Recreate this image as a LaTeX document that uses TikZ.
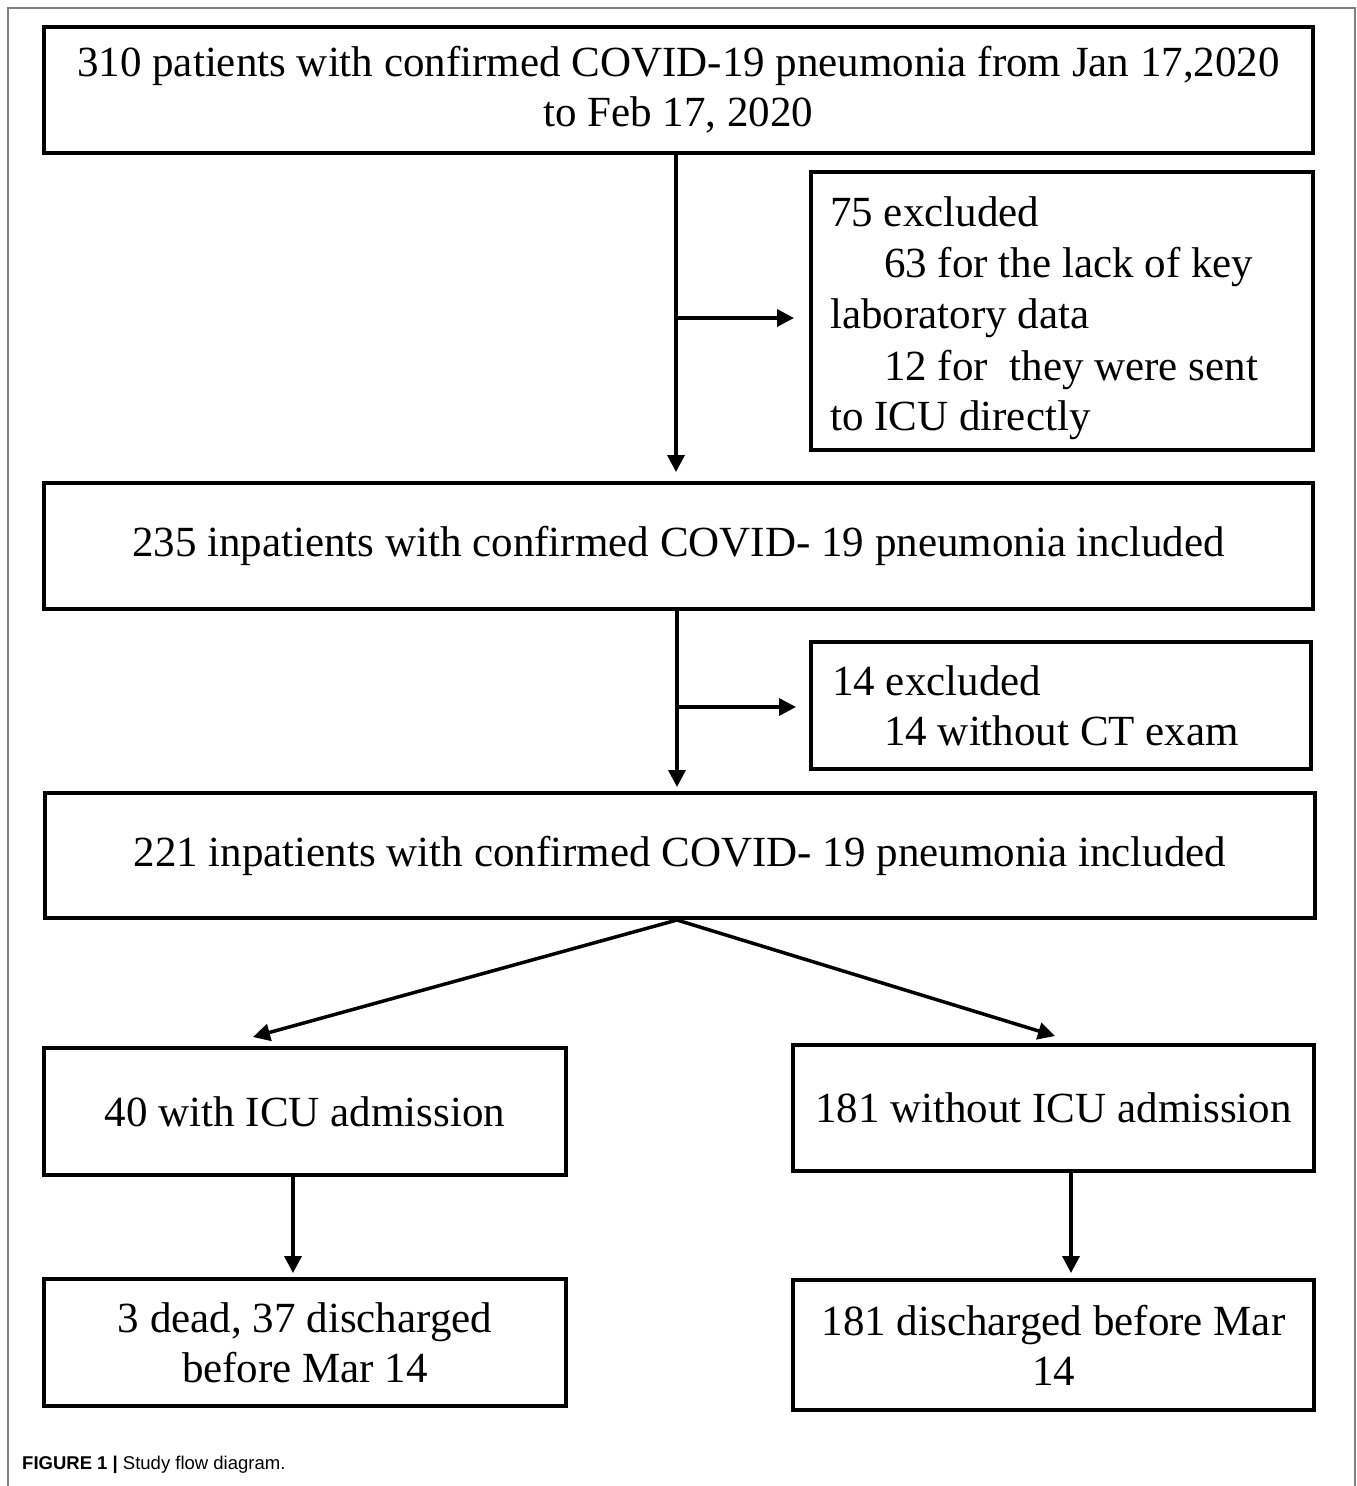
\documentclass[tikz,border=0pt]{standalone}
\usepackage{fontspec}
\setmainfont{Liberation Serif}
\newfontfamily\capfont{Liberation Sans}
\usetikzlibrary{arrows.meta}
\begin{document}
\begin{tikzpicture}[x=1pt,y=-1pt,
  box/.style={draw=black,line width=4pt,inner sep=0pt,align=center,
    font=\fontsize{43}{50}\selectfont},
  txt/.style={inner sep=0pt,anchor=base west,font=\fontsize{43}{50}\selectfont},
  arr/.style={line width=3.5pt,-{Triangle[length=17pt,width=17pt]}},
  frame/.style={draw=black!50,line width=2pt}]
\useasboundingbox (0,0) rectangle (1357,1486);
% outer frame
\draw[frame] (8,1486) -- (8,8) -- (1355,8) -- (1355,1486);
% boxes
\node[box,minimum width=1269pt,minimum height=126pt] (b1) at (678.5,90)
  {310 patients with confirmed COVID-19 pneumonia from Jan 17,2020\\to Feb 17, 2020};
\node[box,minimum width=502pt,minimum height=278pt] (b2) at (1062,311) {};
\node[txt] (l1) at (830,226) {75 excluded};
\node[txt] (l2) at (884,277) {63 for the lack of key};
\node[txt] (l3) at (830,328) {laboratory data};
\node[txt] (l4) at (884,380) {12 for\ \ they were sent};
\node[txt] (l5) at (830,430) {to ICU directly};
\node[box,minimum width=1269pt,minimum height=126pt] (b3) at (678.5,546)
  {235 inpatients with confirmed COVID- 19 pneumonia included};
\node[box,minimum width=500pt,minimum height=127pt] (b4) at (1061,705.5) {};
\node[txt] (m1) at (832,695) {14 excluded};
\node[txt] (m2) at (884,745) {14 without CT exam};
\node[box,minimum width=1270pt,minimum height=125pt] (b5) at (680,855.5)
  {221 inpatients with confirmed COVID- 19 pneumonia included};
\node[box,minimum width=522pt,minimum height=127pt] (b6) at (305,1111.5)
  {40 with ICU admission};
\node[box,minimum width=521pt,minimum height=126pt] (b7) at (1053.5,1108)
  {181 without ICU admission};
\node[box,minimum width=522pt,minimum height=127pt] (b8) at (305,1342.5)
  {3 dead, 37 discharged\\before Mar 14};
\node[box,minimum width=521pt,minimum height=130pt] (b9) at (1053.5,1345)
  {181 discharged before Mar\\14};
% connectors
\coordinate (j1) at (676,318);
\coordinate (j2) at (677,707);
\coordinate (t6) at (253,1037);
\coordinate (t7) at (1055,1036);
\coordinate (a6) at (293,0);
\coordinate (a7) at (1071,0);
\draw[arr,shorten >=9pt] (b1.south -| j1) -- (b3.north -| j1);
\draw[arr,shorten >=15pt] (j1) -- (j1 -| b2.west);
\draw[arr,shorten >=4pt] (b3.south -| j2) -- (b5.north -| j2);
\draw[arr,shorten >=13pt] (j2) -- (j2 -| b4.west);
\draw[arr] ([xshift=-3pt]b5.south) -- (t6);
\draw[arr] ([xshift=-3pt]b5.south) -- (t7);
\draw[arr,shorten >=4pt] (a6 |- b6.south) -- (a6 |- b8.north);
\draw[arr,shorten >=5pt] (a7 |- b7.south) -- (a7 |- b9.north);
% caption
\node[inner sep=0pt,anchor=base west,font=\capfont\fontsize{18.5}{22}\selectfont] (cap) at (22,1469)
  {\textbf{FIGURE 1 |} Study flow diagram.};
\end{tikzpicture}
\end{document}
